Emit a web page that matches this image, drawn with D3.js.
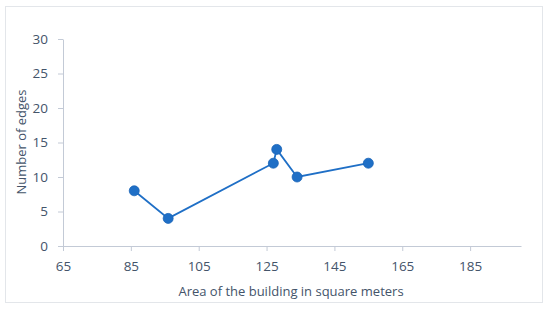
<!DOCTYPE html>
<html>
<head>
<meta charset="utf-8">
<script src="https://cdn.jsdelivr.net/npm/d3@7"></script>
<style>
  body { margin: 0; background: #fff; }
  text { font-family: "Open Sans", "Noto Sans", sans-serif; fill: #44546a; }
</style>
</head>
<body>
<div id="chart"></div>
<script>
// data
const areas = [86, 96, 127, 128, 134, 155];
const edges = [8, 4, 12, 14, 10, 12];
const xTicks = [65, 85, 105, 125, 145, 165, 185];
const yTicks = [0, 5, 10, 15, 20, 25, 30];

const width = 550, height = 310;
const svg = d3.select('#chart').append('svg')
    .attr('width', width)
    .attr('height', height);

// light frame round the chart
svg.append('rect')
    .attr('x', 5.5).attr('y', 6.5)
    .attr('width', 537).attr('height', 296)
    .attr('fill', 'none')
    .attr('stroke', '#e3e6ea');

const x = d3.scaleLinear().domain([65, 200]).range([63, 521]);
const y = d3.scaleLinear().domain([0, 30]).range([246, 39]);

const axisColor = '#c3cad6';

// x axis
const gx = svg.append('g')
    .attr('transform', `translate(0,${y(0)})`)
    .call(d3.axisBottom(x).tickValues(xTicks).tickSize(5).tickSizeOuter(0).tickPadding(10));
gx.select('.domain').attr('stroke', axisColor);
gx.selectAll('.tick line').attr('stroke', axisColor);
gx.selectAll('.tick text').attr('font-size', 13.5).attr('fill', '#44546a');

// y axis
const gy = svg.append('g')
    .attr('transform', `translate(${x(65)},0)`)
    .call(d3.axisLeft(y).tickValues(yTicks).tickSize(5).tickSizeOuter(0).tickPadding(10));
gy.select('.domain').attr('stroke', axisColor);
gy.selectAll('.tick line').attr('stroke', axisColor);
gy.selectAll('.tick text').attr('font-size', 13.5).attr('fill', '#44546a');

// axis titles
svg.append('text')
    .attr('x', 291).attr('y', 296)
    .attr('text-anchor', 'middle')
    .attr('font-size', 13)
    .text('Area of the building in square meters');

svg.append('text')
    .attr('transform', `translate(26,142) rotate(-90)`)
    .attr('text-anchor', 'middle')
    .attr('font-size', 13)
    .text('Number of edges');

// series
const pts = areas.map((a, i) => [a, edges[i]]);
const line = d3.line().x(d => x(d[0])).y(d => y(d[1]));

svg.append('path')
    .datum(pts)
    .attr('d', line)
    .attr('fill', 'none')
    .attr('stroke', '#1f6fc6')
    .attr('stroke-width', 1.8);

svg.selectAll('circle.pt')
    .data(pts)
    .join('circle')
    .attr('class', 'pt')
    .attr('cx', d => x(d[0]))
    .attr('cy', d => y(d[1]))
    .attr('r', 5)
    .attr('fill', '#1f6fc6')
    .attr('stroke', '#1a64b8')
    .attr('stroke-width', 0.8);
</script>
</body>
</html>
